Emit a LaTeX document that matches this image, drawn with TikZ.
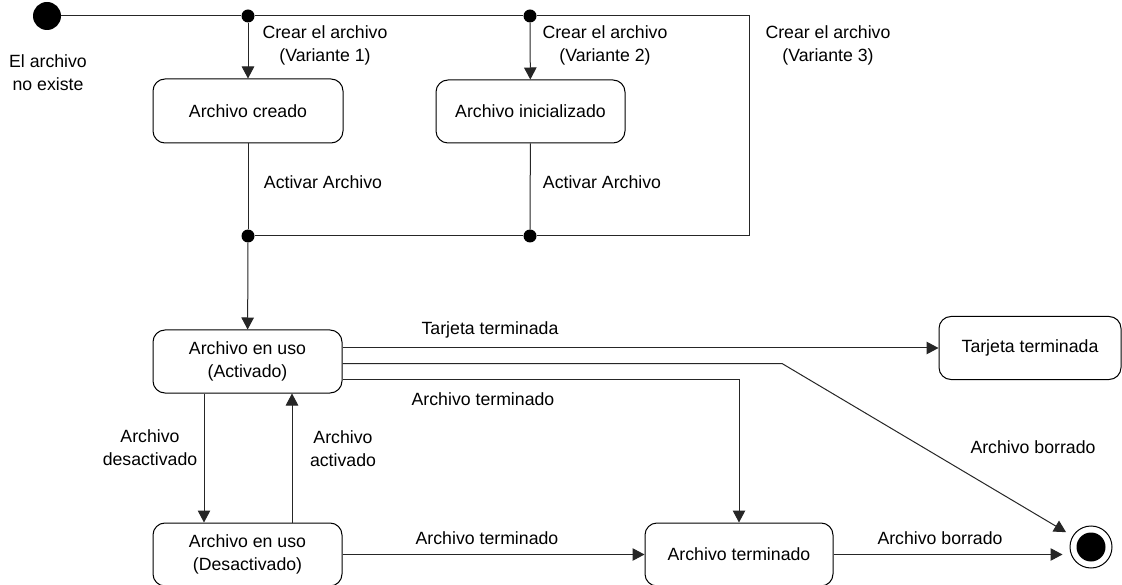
\documentclass[tikz,border=0pt]{standalone}
\usepackage{fontspec}
\setmainfont{Liberation Sans}
\usetikzlibrary{arrows.meta}
\begin{document}
\begin{tikzpicture}[x=1pt,y=-1pt,
  every node/.style={font=\fontsize{17.7}{23}\selectfont},
  statebox/.style={draw, line width=1pt, rounded corners=12pt, align=center, inner sep=0pt},
  lbl/.style={align=center, inner sep=0pt},
  jdot/.style={circle, fill=black, inner sep=0pt, minimum size=13pt},
  conn/.style={line width=1pt, draw=black!85},
  arr/.style={conn, -{Triangle[length=12pt,width=12.5pt]}}
]
\path[fill=white, use as bounding box] (0,0) rectangle (1122,585);

% initial and final states
\node[circle, fill=black, inner sep=0pt, minimum size=28pt] (init) at (47,16) {};
\node[circle, draw, line width=1pt, inner sep=0pt, minimum size=42pt] (fin) at (1091,547) {};
\fill (fin.center) circle (14.5pt);

% junction dots and corners
\node[jdot] (d1) at (248,16) {};
\node[jdot] (d2) at (530,16) {};
\node[jdot] (d3) at (248,236) {};
\node[jdot] (d4) at (530,236) {};
\coordinate (c1) at (749,16);
\coordinate (c2) at (749,236);

% states
\node[statebox, minimum width=190pt, minimum height=64pt] (creado) at (248,111) {Archivo creado};
\node[statebox, minimum width=189pt, minimum height=63pt] (inic) at (530.5,111.5) {Archivo inicializado};
\node[statebox, minimum width=189pt, minimum height=63pt] (act) at (247.5,361.5) {Archivo en uso\\(Activado)};
\node[statebox, minimum width=189pt, minimum height=63pt] (desact) at (247.5,554.5) {Archivo en uso\\(Desactivado)};
\node[statebox, minimum width=188pt, minimum height=63pt] (term) at (739,554.5) {Archivo terminado};
\node[statebox, minimum width=182pt, minimum height=63pt] (tarj) at (1030,348) {Tarjeta terminada};

% top creation network
\draw[conn] (init) -- (d1) -- (d2) -- (c1) -- (c2) -- (d4) -- (d3);
\draw[arr] (d1) -- (creado);
\draw[arr] (d2) -- (inic);
\draw[conn] (creado) -- (d3);
\draw[conn] (inic) -- (d4);
\draw[arr] (d3) -- (act);

% from active state
\draw[arr] (act.east |- tarj.west) -- (tarj.west);
\coordinate (bend) at (782,363.5);
\draw[arr, shorten >=29pt] ([yshift=-2pt]act.east) -- (bend) -- (fin.center);
\draw[arr] ([yshift=-17.5pt]act.east) -| (term.north);
\draw[arr] ([xshift=-43.5pt]act.south) -- ([xshift=-43.5pt]desact.north);
\draw[arr] ([xshift=44.5pt]desact.north) -- ([xshift=44.5pt]act.south);
\draw[arr] (desact.east) -- (term.west);
\draw[arr, shorten >=7pt] (term.east) -- (term.east -| fin.west);

% labels
\node[lbl] at (48,73) {\fontsize{17.7}{20}\selectfont El archivo\\no existe};
\node[lbl] at (325,45) {Crear el archivo\\(Variante 1)};
\node[lbl] at (605,45) {Crear el archivo\\(Variante 2)};
\node[lbl] at (828,45) {Crear el archivo\\(Variante 3)};
\node[lbl] at (323,182) {Activar Archivo};
\node[lbl] at (602,182) {Activar Archivo};
\node[lbl] at (490,330) {Tarjeta terminada};
\node[lbl] at (483,399) {Archivo terminado};
\node[lbl] at (150,448) {Archivo\\desactivado};
\node[lbl] at (343,449) {Archivo\\activado};
\node[lbl] at (487,538) {Archivo terminado};
\node[lbl] at (940,538) {Archivo borrado};
\node[lbl] at (1033,447) {Archivo borrado};
\end{tikzpicture}
\end{document}
